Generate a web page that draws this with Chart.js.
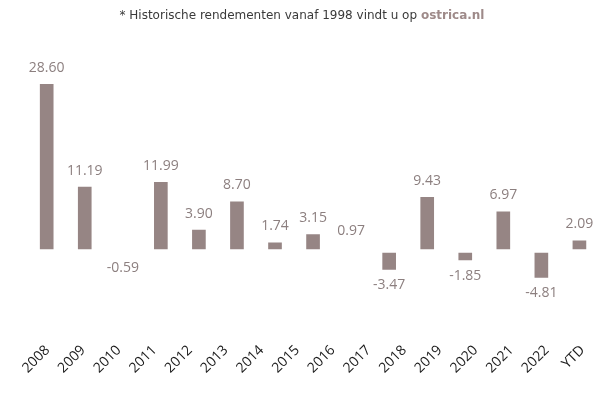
<!DOCTYPE html>
<html>
<head>
<meta charset="utf-8">
<script src="https://cdn.jsdelivr.net/npm/chart.js@4"></script>
<style>
	html, body { margin:0; padding:0; background:#fff; overflow:hidden; width:597px; height:405px; }
	#note { position:absolute; top:8px; left:0; width:604px; text-align:center; font-family:'DejaVu Sans', sans-serif; font-size:12px; color:#3a3a3a; }
	#note b { color:#9e8a89; }
	#wrap { position:absolute; left:0; top:0; width:615px; height:405px; }
</style>
</head>
<body>
<div id="wrap"><canvas id="chart"></canvas></div>
<div id="note">* Historische rendementen vanaf 1998 vindt u op <b>ostrica.nl</b></div>
<script>
// tick labels under the chart
var years = ['2008','2009','2010','2011','2012','2013','2014','2015','2016','2017','2018','2019','2020','2021','2022','YTD'];
// yearly returns (%) as drawn
var rendement = [28.60, 11.19, -0.59, 11.99, 3.90, 8.70, 1.74, 3.15, 0.97, -3.47, 9.43, -1.85, 6.97, -4.81, 2.09];

var BAR_COLOR = '#968584';
var LABEL_COLOR = '#8c7f7f';

// draws the value above / below each bar
var valueLabels = {
	id: 'valueLabels',
	afterDatasetsDraw: function(chart) {
		var ctx = chart.ctx;
		var meta = chart.getDatasetMeta(0);
		ctx.save();
		ctx.font = '14px "Open Sans", sans-serif';
		ctx.fillStyle = LABEL_COLOR;
		ctx.textAlign = 'center';
		ctx.textBaseline = 'middle';
		meta.data.forEach(function(bar, i) {
			var v = rendement[i];
			var y = v >= 0 ? bar.y - 14.5 : bar.y + 14;
			ctx.fillText(v.toFixed(2), bar.x, y);
		});
		ctx.restore();
	}
};

var ctx = document.getElementById('chart');
var chart = new Chart(ctx, {
	type: 'bar',
	data: {
		labels: years.slice(0, rendement.length),
		datasets: [{
			data: rendement,
			// values under 1% are too small to show a bar in the original
			backgroundColor: function(c) {
				return Math.abs(rendement[c.dataIndex]) < 1 ? 'rgba(0,0,0,0)' : BAR_COLOR;
			},
			borderColor: function(c) {
				return Math.abs(rendement[c.dataIndex]) < 1 ? 'rgba(0,0,0,0)' : '#ffffff';
			},
			borderWidth: 2,
			borderSkipped: false,
			barThickness: 17,
			xAxisID: 'x'
		}]
	},
	options: {
		responsive: true,
		maintainAspectRatio: false,
		animation: false,
		layout: { padding: { left: 23, right: 13, top: 40, bottom: 0 } },
		plugins: { legend: { display: false }, tooltip: { enabled: false } },
		scales: {
			x: { display: false },
			x2: {
				type: 'category',
				labels: years,
				position: 'bottom',
				grid: { display: false, drawTicks: false },
				border: { display: false },
				afterFit: function(scale) { scale.height = 85; },
				ticks: {
					minRotation: 45,
					maxRotation: 45,
					padding: 22,
					labelOffset: 2,
					color: '#1a1a1a',
					font: { family: '"Open Sans", sans-serif', size: 14 }
				}
			},
			y: {
				display: false,
				min: -11.7,
				max: 35.8
			}
		}
	},
	plugins: [valueLabels]
});
</script>
</body>
</html>
